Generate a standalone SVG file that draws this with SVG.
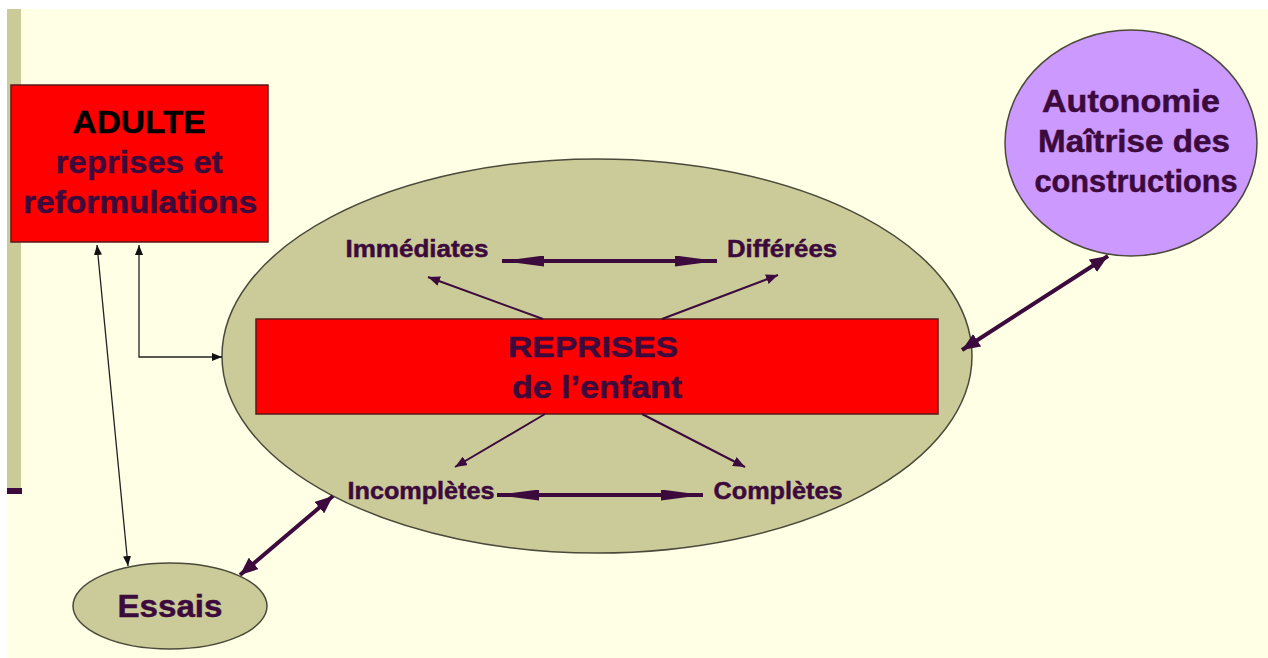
<svg xmlns="http://www.w3.org/2000/svg" width="1268" height="658" viewBox="0 0 1268 658">
<style>
.t{font-family:"Liberation Sans",Arial,sans-serif;font-weight:bold;fill:#3c0a3c;stroke:#3c0a3c;stroke-width:0.5;text-anchor:middle}
.blk{fill:#000;stroke:#000}
.node{stroke:#4a4a3a;stroke-width:1.5}
.red{fill:#ff0000;stroke:#5a1a1a;stroke-width:1.5}
.olive{fill:#cbcb9a}
.thin{stroke:#222;stroke-width:1.3;fill:none}
.small{stroke:#3c0a3c;stroke-width:2;fill:none}
.thick{stroke:#3c0a3c;stroke-width:4;fill:none}
</style>
<defs>
<marker id="hThin" markerUnits="userSpaceOnUse" viewBox="0 0 10 8" refX="10" refY="4" markerWidth="10" markerHeight="8" orient="auto-start-reverse"><path d="M0,0 L10,4 L0,8 z" fill="#111"/></marker>
<marker id="hSmall" markerUnits="userSpaceOnUse" viewBox="0 0 12 10" refX="12" refY="5" markerWidth="12" markerHeight="10" orient="auto-start-reverse"><path d="M0,0 L12,5 L0,10 z" fill="#3c0a3c"/></marker>
<marker id="hStealth" markerUnits="userSpaceOnUse" viewBox="0 0 42 11" refX="42" refY="5.5" markerWidth="42" markerHeight="11" orient="auto-start-reverse"><path d="M0,0 L42,5.5 L0,11 z" fill="#3c0a3c"/></marker>
<marker id="hThick" markerUnits="userSpaceOnUse" viewBox="0 0 18 15" refX="18" refY="7.5" markerWidth="18" markerHeight="15" orient="auto-start-reverse"><path d="M0,0 L18,7.5 L0,15 z" fill="#3c0a3c"/></marker>
</defs>
<rect x="0" y="0" width="1268" height="658" fill="#ffffff"/>
<rect x="7" y="9" width="1261" height="649" fill="#ffffe6"/>
<rect x="7" y="9" width="14" height="480" fill="#cbcb9a"/>
<rect x="7" y="488" width="15" height="6" fill="#3c0a3c"/>

<g id="main-ellipse">
<ellipse class="node olive" cx="597" cy="356" rx="375" ry="197"/>
</g>
<g id="adulte">
<rect class="red" x="11" y="85" width="257" height="157"/>
<text class="t blk" x="139" y="133" font-size="32" textLength="133" lengthAdjust="spacingAndGlyphs">ADULTE</text>
<text class="t" x="139" y="173" font-size="32" textLength="167" lengthAdjust="spacingAndGlyphs">reprises et</text>
<text class="t" x="140" y="213" font-size="32" textLength="234" lengthAdjust="spacingAndGlyphs">reformulations</text>
</g>
<g id="reprises">
<rect class="red" x="256" y="319" width="682" height="95"/>
<text class="t" x="593" y="357" font-size="29" textLength="170" lengthAdjust="spacingAndGlyphs">REPRISES</text>
<text class="t" x="597" y="398" font-size="31" textLength="170" lengthAdjust="spacingAndGlyphs">de l’enfant</text>
</g>
<g id="immediates"><text class="t" x="417" y="257" font-size="24" textLength="143" lengthAdjust="spacingAndGlyphs">Immédiates</text></g>
<g id="differees"><text class="t" x="782" y="257" font-size="24" textLength="110" lengthAdjust="spacingAndGlyphs">Différées</text></g>
<g id="incompletes"><text class="t" x="421" y="499" font-size="24" textLength="147" lengthAdjust="spacingAndGlyphs">Incomplètes</text></g>
<g id="completes"><text class="t" x="778" y="499" font-size="24" textLength="129" lengthAdjust="spacingAndGlyphs">Complètes</text></g>
<g id="essais">
<ellipse class="node olive" cx="170" cy="606" rx="97" ry="43"/>
<text class="t" x="170" y="617" font-size="32" textLength="105" lengthAdjust="spacingAndGlyphs">Essais</text>
</g>
<g id="autonomie">
<ellipse class="node" fill="#cc99ff" cx="1131" cy="143" rx="126" ry="113"/>
<text class="t" x="1131" y="112" font-size="31" textLength="178" lengthAdjust="spacingAndGlyphs">Autonomie</text>
<text class="t" x="1134" y="152" font-size="31" textLength="192" lengthAdjust="spacingAndGlyphs">Maîtrise des</text>
<text class="t" x="1136" y="192" font-size="31" textLength="203" lengthAdjust="spacingAndGlyphs">constructions</text>
</g>

<g id="connectors">
<line class="thin" x1="128" y1="566" x2="97" y2="245" marker-start="url(#hThin)" marker-end="url(#hThin)"/>
<polyline class="thin" points="139,245 139,357 222,357" marker-start="url(#hThin)" marker-end="url(#hThin)"/>
<line class="small" x1="543" y1="319" x2="428" y2="277" marker-end="url(#hSmall)"/>
<line class="small" x1="662" y1="319" x2="778" y2="275" marker-end="url(#hSmall)"/>
<line class="small" x1="545" y1="414" x2="455" y2="467" marker-end="url(#hSmall)"/>
<line class="small" x1="642" y1="414" x2="745" y2="467" marker-end="url(#hSmall)"/>
<line class="thick" x1="502" y1="261" x2="717" y2="261" marker-start="url(#hStealth)" marker-end="url(#hStealth)"/>
<line class="thick" x1="497" y1="495" x2="703" y2="495" marker-start="url(#hStealth)" marker-end="url(#hStealth)"/>
<line class="thick" x1="240" y1="575" x2="333" y2="496" marker-start="url(#hThick)" marker-end="url(#hThick)"/>
<line class="thick" x1="962" y1="350" x2="1108" y2="256" marker-start="url(#hThick)" marker-end="url(#hThick)"/>
</g>
</svg>
